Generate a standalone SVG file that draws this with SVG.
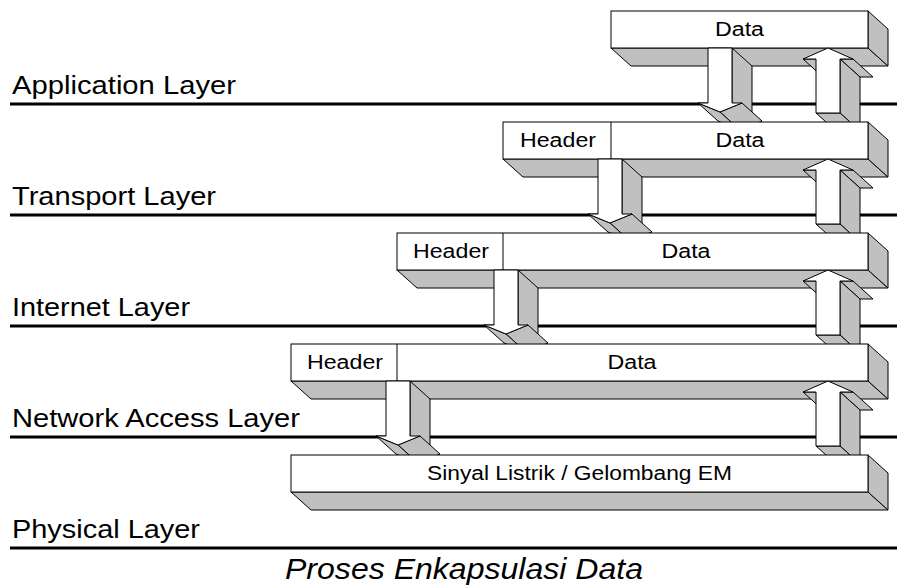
<svg xmlns="http://www.w3.org/2000/svg" width="897" height="588" viewBox="0 0 897 588">
<style>
.face{fill:#ffffff;stroke:#000;stroke-width:1;stroke-linejoin:miter}
.side{fill:#c0c0c0;stroke:#000;stroke-width:1;stroke-linejoin:miter}
.rule{stroke:#000;stroke-width:3;fill:none}
.lbl{font-family:"Liberation Sans",Arial,sans-serif;font-size:25.5px;fill:#000}
.btx{font-family:"Liberation Sans",Arial,sans-serif;font-size:20px;fill:#000;text-anchor:middle}
.cap{font-family:"Liberation Sans",Arial,sans-serif;font-size:29.5px;font-style:italic;fill:#000;text-anchor:middle}
</style>
<rect width="897" height="588" fill="#fff"/>
<g id="layers">
<line class="rule" x1="10" y1="104" x2="897" y2="104"/>
<line class="rule" x1="10" y1="215" x2="897" y2="215"/>
<line class="rule" x1="10" y1="326" x2="897" y2="326"/>
<line class="rule" x1="10" y1="437" x2="897" y2="437"/>
<line class="rule" x1="10" y1="548" x2="897" y2="548"/>
<text class="lbl" x="12" y="94" textLength="224" lengthAdjust="spacingAndGlyphs">Application Layer</text>
<text class="lbl" x="12" y="205" textLength="204" lengthAdjust="spacingAndGlyphs">Transport Layer</text>
<text class="lbl" x="12" y="316" textLength="178" lengthAdjust="spacingAndGlyphs">Internet Layer</text>
<text class="lbl" x="12" y="427" textLength="288" lengthAdjust="spacingAndGlyphs">Network Access Layer</text>
<text class="lbl" x="12" y="538" textLength="188" lengthAdjust="spacingAndGlyphs">Physical Layer</text>
</g>
<g id="box1">
<polygon class="side" points="611,48 868,48 888,66 631,66"/>
<polygon class="side" points="868,11 888,29 888,66 868,48"/>
<rect class="face" x="611" y="11" width="257" height="37"/>
<text class="btx" x="739.5" y="36" textLength="49" lengthAdjust="spacingAndGlyphs">Data</text>
</g>
<g id="connectors1">
<polygon class="side" points="732,48 752,66 752,121 732,103"/>
<polygon class="side" points="742,103 720,112 740,130 762,121"/>
<polygon class="side" points="720,112 698,103 718,121 740,130"/>
<polygon class="face" points="708,48 732,48 732,103 742,103 720,112 698,103 708,103"/>
<polygon class="side" points="803,59 816,59 836,77 823,77"/>
<polygon class="side" points="840,59 853,59 873,77 860,77"/>
<polygon class="side" points="840,59 860,77 860,131 840,113"/>
<polygon class="side" points="816,113 840,113 860,131 836,131"/>
<polygon class="face" points="828,48 853,59 840,59 840,113 816,113 816,59 803,59"/>
</g>
<g id="box2">
<polygon class="side" points="503,159 868,159 888,177 523,177"/>
<polygon class="side" points="868,122 888,140 888,177 868,159"/>
<rect class="face" x="503" y="122" width="365" height="37"/>
<line class="face" x1="611" y1="122" x2="611" y2="159"/>
<text class="btx" x="558" y="147" textLength="76" lengthAdjust="spacingAndGlyphs">Header</text>
<text class="btx" x="740" y="147" textLength="49" lengthAdjust="spacingAndGlyphs">Data</text>
</g>
<g id="connectors2">
<polygon class="side" points="622,159 642,177 642,232 622,214"/>
<polygon class="side" points="632,214 610,223 630,241 652,232"/>
<polygon class="side" points="610,223 588,214 608,232 630,241"/>
<polygon class="face" points="598,159 622,159 622,214 632,214 610,223 588,214 598,214"/>
<polygon class="side" points="803,170 816,170 836,188 823,188"/>
<polygon class="side" points="840,170 853,170 873,188 860,188"/>
<polygon class="side" points="840,170 860,188 860,242 840,224"/>
<polygon class="side" points="816,224 840,224 860,242 836,242"/>
<polygon class="face" points="828,159 853,170 840,170 840,224 816,224 816,170 803,170"/>
</g>
<g id="box3">
<polygon class="side" points="397,270 868,270 888,288 417,288"/>
<polygon class="side" points="868,233 888,251 888,288 868,270"/>
<rect class="face" x="397" y="233" width="471" height="37"/>
<line class="face" x1="503" y1="233" x2="503" y2="270"/>
<text class="btx" x="451" y="258" textLength="76" lengthAdjust="spacingAndGlyphs">Header</text>
<text class="btx" x="686" y="258" textLength="49" lengthAdjust="spacingAndGlyphs">Data</text>
</g>
<g id="connectors3">
<polygon class="side" points="518,270 538,288 538,343 518,325"/>
<polygon class="side" points="528,325 506,334 526,352 548,343"/>
<polygon class="side" points="506,334 484,325 504,343 526,352"/>
<polygon class="face" points="494,270 518,270 518,325 528,325 506,334 484,325 494,325"/>
<polygon class="side" points="803,281 816,281 836,299 823,299"/>
<polygon class="side" points="840,281 853,281 873,299 860,299"/>
<polygon class="side" points="840,281 860,299 860,353 840,335"/>
<polygon class="side" points="816,335 840,335 860,353 836,353"/>
<polygon class="face" points="828,270 853,281 840,281 840,335 816,335 816,281 803,281"/>
</g>
<g id="box4">
<polygon class="side" points="291,381 868,381 888,399 311,399"/>
<polygon class="side" points="868,344 888,362 888,399 868,381"/>
<rect class="face" x="291" y="344" width="577" height="37"/>
<line class="face" x1="397" y1="344" x2="397" y2="381"/>
<text class="btx" x="345" y="369" textLength="76" lengthAdjust="spacingAndGlyphs">Header</text>
<text class="btx" x="632" y="369" textLength="49" lengthAdjust="spacingAndGlyphs">Data</text>
</g>
<g id="connectors4">
<polygon class="side" points="410,381 430,399 430,454 410,436"/>
<polygon class="side" points="420,436 398,445 418,463 440,454"/>
<polygon class="side" points="398,445 376,436 396,454 418,463"/>
<polygon class="face" points="386,381 410,381 410,436 420,436 398,445 376,436 386,436"/>
<polygon class="side" points="803,392 816,392 836,410 823,410"/>
<polygon class="side" points="840,392 853,392 873,410 860,410"/>
<polygon class="side" points="840,392 860,410 860,464 840,446"/>
<polygon class="side" points="816,446 840,446 860,464 836,464"/>
<polygon class="face" points="828,381 853,392 840,392 840,446 816,446 816,392 803,392"/>
</g>
<g id="box5">
<polygon class="side" points="291,492 868,492 888,510 311,510"/>
<polygon class="side" points="868,455 888,473 888,510 868,492"/>
<rect class="face" x="291" y="455" width="577" height="37"/>
<text class="btx" x="579.5" y="480" textLength="305" lengthAdjust="spacingAndGlyphs">Sinyal Listrik / Gelombang EM</text>
</g>
<text class="cap" x="464" y="579" textLength="358" lengthAdjust="spacingAndGlyphs">Proses Enkapsulasi Data</text>
</svg>
